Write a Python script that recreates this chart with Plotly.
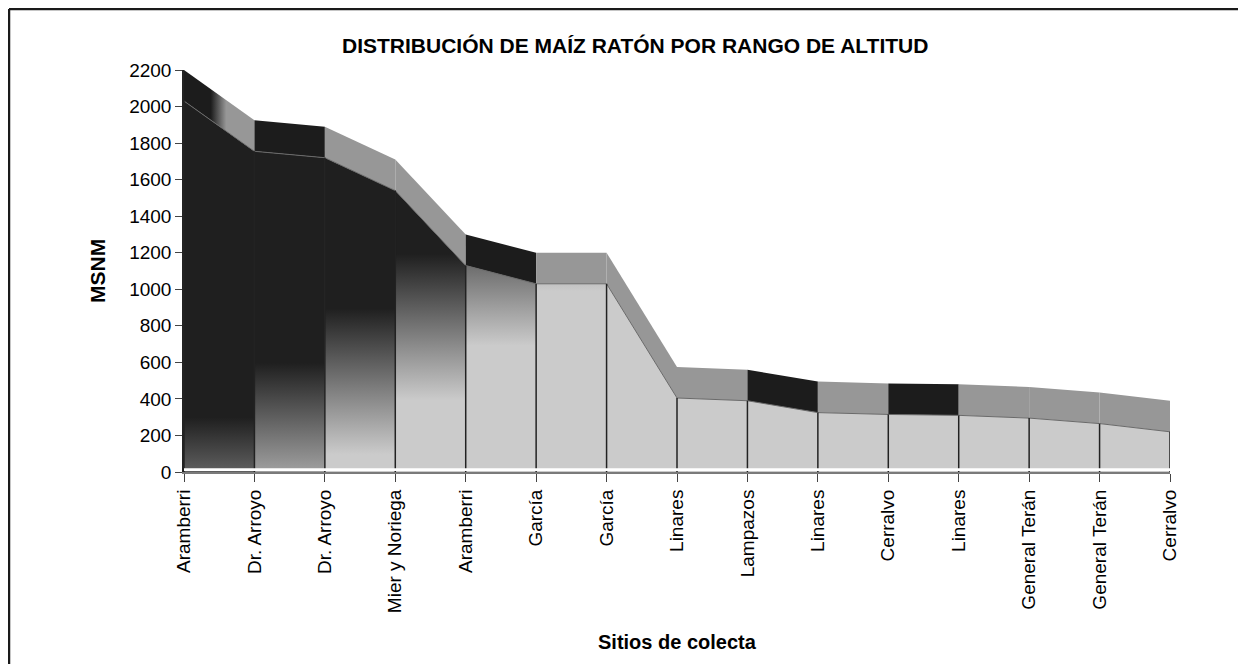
import plotly.graph_objects as go

# ---- data ----
sites = ["Aramberri", "Dr. Arroyo", "Dr. Arroyo", "Mier y Noriega", "Aramberri",
         "García", "García", "Linares", "Lampazos", "Linares", "Cerralvo",
         "Linares", "General Terán", "General Terán", "Cerralvo"]
altitude = [2200, 1925, 1890, 1710, 1300, 1200, 1200, 575, 560, 495, 485, 480, 465, 435, 390]
y_ticks = [0, 200, 400, 600, 800, 1000, 1200, 1400, 1600, 1800, 2000, 2200]

# ---- styling ----
DEPTH = 170          # apparent depth of the 3-D area's top face (axis units)
DARK = "#1c1c1c"
GRAY = "#979797"
LIGHT = "#cbcbcb"
band_style = ["fade", "dark", "gray", "gray", "dark", "gray", "gray", "gray",
              "dark", "gray", "dark", "gray", "gray", "gray"]
FONT = "Liberation Sans, Arial, sans-serif"

OFF = 8              # page body margin
W, H = 1246 - OFF, 664 - OFF
L, R, T, B = 184 - OFF, 1170 - OFF, 70 - OFF, 472 - OFF


def px(x):
    return (x - OFF - L) / (R - L)


def py(y):
    return (B - (y - OFF)) / (B - T)


fig = go.Figure()
n = len(altitude)
for i in range(n - 1):
    xs = [i, i + 1]
    front = [altitude[i] - DEPTH, altitude[i + 1] - DEPTH]
    top = [altitude[i], altitude[i + 1]]
    m = i + 0.5
    stop = 150 + 298 * m
    start = stop - 800
    fig.add_trace(go.Scatter(
        x=xs, y=front, mode="lines", fill="tozeroy",
        line=dict(color="#6a6a6a", width=1),
        fillgradient=dict(type="vertical", start=start, stop=stop,
                          colorscale=[[0, LIGHT], [1, "#1f1f1f"]]),
        hoverinfo="skip", showlegend=False))
    st = band_style[i]
    if st == "fade":
        fig.add_trace(go.Scatter(
            x=xs, y=top, mode="lines", fill="tonexty", line=dict(width=0),
            fillgradient=dict(type="horizontal", start=i + 0.38, stop=i + 0.6,
                              colorscale=[[0, DARK], [1, GRAY]]),
            hoverinfo="skip", showlegend=False))
    else:
        fig.add_trace(go.Scatter(
            x=xs, y=top, mode="lines", fill="tonexty", line=dict(width=0),
            fillcolor=DARK if st == "dark" else GRAY,
            hoverinfo="skip", showlegend=False))

# drop lines at each collection site
dx, dy = [], []
for i in range(n):
    dx += [i, i, None]
    dy += [0, altitude[i] - DEPTH, None]
fig.add_trace(go.Scatter(x=dx, y=dy, mode="lines", line=dict(color="#222222", width=1.5),
                         hoverinfo="skip", showlegend=False))

fig.update_layout(
    width=W, height=H, autosize=False,
    margin=dict(l=L, r=W - R, t=T, b=H - B),
    paper_bgcolor="white", plot_bgcolor="white",
    font=dict(family=FONT, color="#000000", size=19),
    xaxis=dict(range=[0, n - 1], tickmode="array", tickvals=list(range(n)), ticktext=sites,
               tickangle=-90, ticks="outside", ticklen=8, tickcolor="#444444",
               showline=True, linecolor="#7a7a7a", linewidth=2, showgrid=False, zeroline=False,
               tickfont=dict(size=19)),
    yaxis=dict(range=[0, 2200], tickmode="array", tickvals=y_ticks,
               ticks="outside", ticklen=7, tickcolor="#444444",
               showline=True, linecolor="#222222", linewidth=1.5, showgrid=False, zeroline=False,
               tickfont=dict(size=19)),
    shapes=[
        dict(type="rect", xref="x", yref="y", x0=0, x1=n - 1, y0=5, y1=20,
             fillcolor="white", line=dict(width=0), layer="above"),
        dict(type="line", xref="paper", yref="paper", x0=px(9), x1=px(1246),
             y0=py(9), y1=py(9), line=dict(color="#1a1a1a", width=2.5)),
        dict(type="line", xref="paper", yref="paper", x0=px(9), x1=px(9),
             y0=py(9), y1=py(664), line=dict(color="#1a1a1a", width=2.5)),
    ],
    annotations=[
        dict(text="<b>DISTRIBUCIÓN DE MAÍZ RATÓN POR RANGO DE ALTITUD</b>", xref="paper", yref="paper",
             x=px(635), y=py(45), xanchor="center", yanchor="middle", showarrow=False,
             font=dict(size=21)),
        dict(text="<b>MSNM</b>", xref="paper", yref="paper", x=px(97), y=py(271),
             xanchor="center", yanchor="middle", textangle=-90, showarrow=False,
             font=dict(size=21)),
        dict(text="<b>Sitios de colecta</b>", xref="paper", yref="paper", x=px(677), y=py(642),
             xanchor="center", yanchor="middle", showarrow=False, font=dict(size=20)),
    ],
)

fig.write_html("out.html")
